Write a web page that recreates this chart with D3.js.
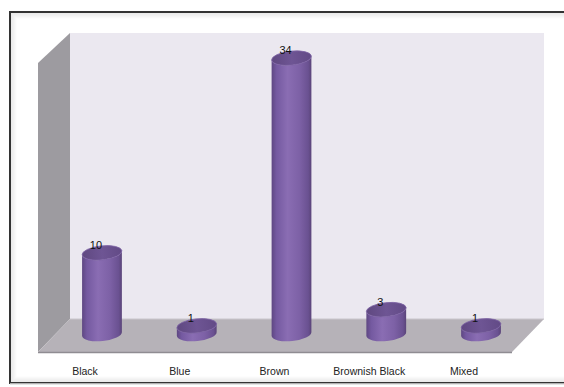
<!DOCTYPE html>
<html><head><meta charset="utf-8">
<script src="https://cdn.jsdelivr.net/npm/d3@7/dist/d3.min.js"></script>
<style>html,body{margin:0;padding:0;background:#fff;overflow:hidden}</style>
</head><body>
<script>
const categories = ["Black", "Blue", "Brown", "Brownish Black", "Mixed"];
const values = [10, 1, 34, 3, 1];

const W = 564, H = 387;
const svg = d3.select("body").append("svg").attr("width", W).attr("height", H);
const defs = svg.append("defs");

// frame with inner shadow
const frame = svg.append("g");
for (let i = 0; i < 6; i++) {
  frame.append("rect").attr("x", 11 + i).attr("y", 13 + i)
    .attr("width", W + 20).attr("height", 369 - 2 * i)
    .attr("fill", "none").attr("stroke", "#000").attr("stroke-opacity", 0.09 - i * 0.014);
}
frame.append("rect").attr("x", 10).attr("y", 12).attr("width", W + 20).attr("height", 371)
  .attr("fill", "none").attr("stroke", "#333").attr("stroke-width", 2);
svg.append("line").attr("x1", 10).attr("x2", W).attr("y1", 384).attr("y2", 384)
  .attr("stroke", "#ddd").attr("stroke-width", 1.5);

// 3D box geometry
const backL = 70, backR = 544, backT = 33, floorBack = 319;
const dx = 32, dy = 33;
const floorFront = floorBack + dy;

svg.append("rect").attr("x", backL).attr("y", backT).attr("width", backR - backL)
  .attr("height", floorBack - backT).attr("fill", "#ebe8f0");
svg.append("path").attr("d", `M${backL - dx},${backT + 30} L${backL},${backT} L${backL},${floorBack} L${backL - dx},${floorFront} Z`)
  .attr("fill", "#9d9ba0");
svg.append("path").attr("d", `M${backL},${floorBack} L${backR},${floorBack} L${backR - dx},${floorFront} L${backL - dx},${floorFront} Z`)
  .attr("fill", "#b6b2b8");
svg.append("line").attr("x1", backL - dx).attr("x2", backR - dx).attr("y1", floorFront + 0.5).attr("y2", floorFront + 0.5)
  .attr("stroke", "#8f8c92").attr("stroke-width", 1.5);
svg.append("line").attr("x1", backL).attr("x2", backR).attr("y1", floorBack).attr("y2", floorBack)
  .attr("stroke", "#c9c6cc").attr("stroke-width", 1);

// scales
const x = d3.scaleBand().domain(categories).range([54.6, 528.4]);
const baseY = 334;
const y = d3.scaleLinear().domain([0, 35]).range([baseY, 50]);
const rx = 20, ry = 7, tilt = -6;
const th = tilt * Math.PI / 180;
const ox = rx * Math.cos(th), oy = rx * Math.sin(th);

const bodyGrad = defs.append("linearGradient").attr("id", "body").attr("x1", 0).attr("x2", 1).attr("y1", 0).attr("y2", 0);
[[0, "#5e4782"], [0.12, "#7459a0"], [0.4, "#8a6db3"], [0.7, "#7d61a6"], [0.92, "#6a5191"], [1, "#5a4479"]]
  .forEach(([o, c]) => bodyGrad.append("stop").attr("offset", o).attr("stop-color", c));
const topGrad = defs.append("linearGradient").attr("id", "top").attr("x1", 0).attr("x2", 1).attr("y1", 0).attr("y2", 0);
[[0, "#5f4880"], [0.5, "#6e5594"], [1, "#624a86"]]
  .forEach(([o, c]) => topGrad.append("stop").attr("offset", o).attr("stop-color", c));

const g = svg.append("g");
categories.forEach((c, i) => {
  const cx = x(c) + x.bandwidth() / 2;
  const yt = y(values[i]);
  const cyl = g.append("g");
  cyl.append("path")
    .attr("d", `M${cx - ox},${yt - oy} L${cx - ox},${baseY - oy} A${rx},${ry} ${tilt} 0 0 ${cx + ox},${baseY + oy} L${cx + ox},${yt + oy} A${rx},${ry} ${tilt} 0 1 ${cx - ox},${yt - oy} Z`)
    .attr("fill", "url(#body)");
  cyl.append("ellipse").attr("cx", cx).attr("cy", yt).attr("rx", rx).attr("ry", ry)
    .attr("transform", `rotate(${tilt},${cx},${yt})`)
    .attr("fill", "url(#top)").attr("stroke", "#7c62a4").attr("stroke-width", 0.8);
  g.append("text").attr("x", cx - 6).attr("y", yt - 4)
    .attr("text-anchor", "middle")
    .attr("font-family", "Liberation Sans, Arial, sans-serif").attr("font-size", 11)
    .attr("fill", "#111").text(values[i]);
  g.append("text").attr("x", cx - 17).attr("y", 375)
    .attr("text-anchor", "middle")
    .attr("font-family", "Liberation Sans, Arial, sans-serif").attr("font-size", 10.5)
    .attr("fill", "#222").text(c);
});
</script>
</body></html>
